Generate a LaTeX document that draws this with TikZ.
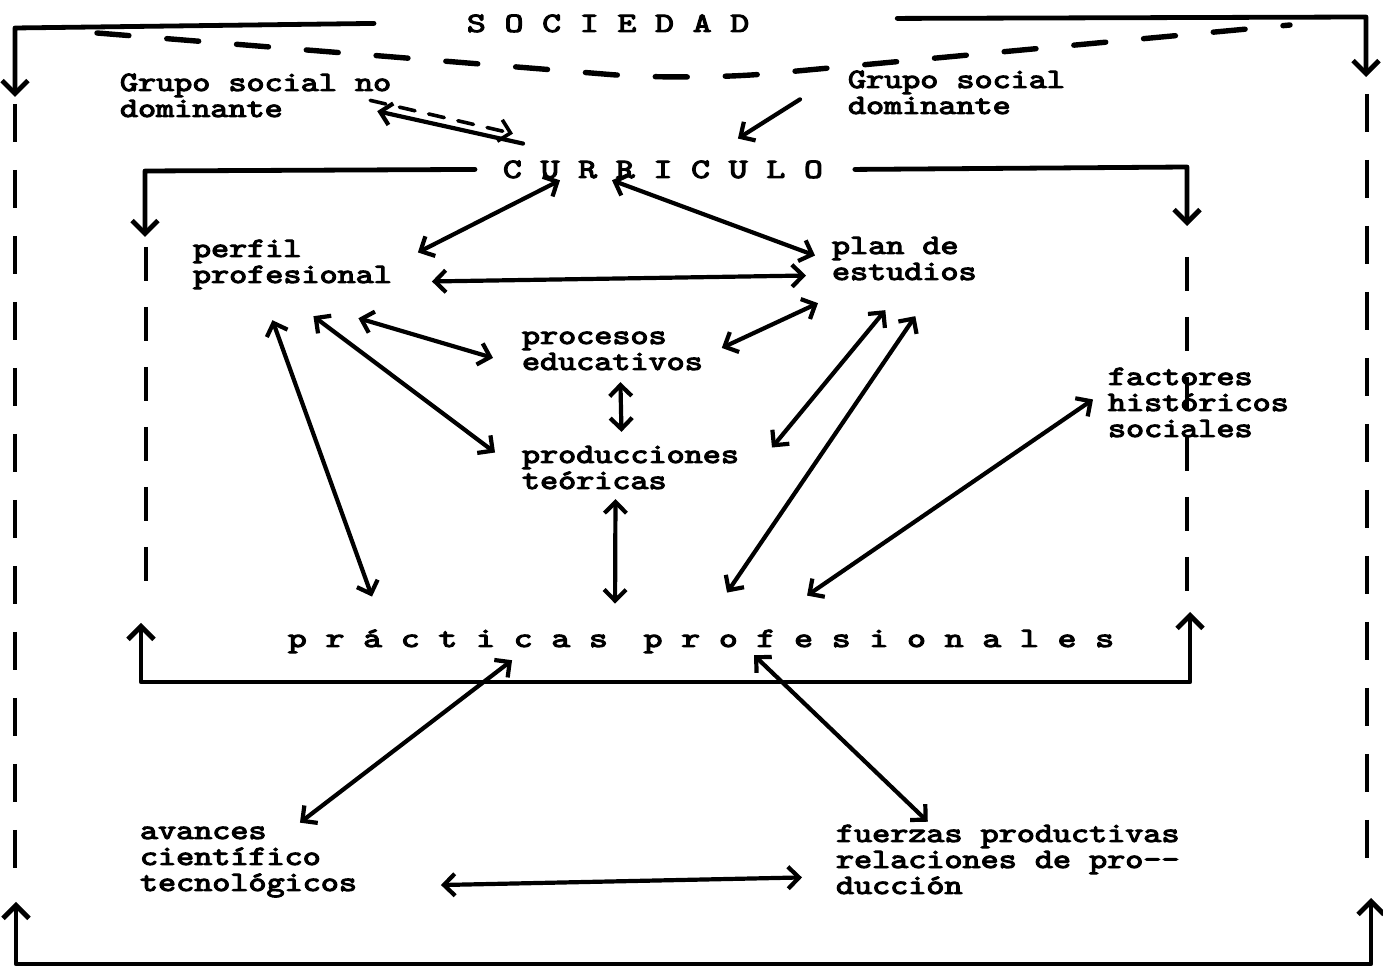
\documentclass[tikz,border=0pt]{standalone}
\usepackage{fontspec}
\usetikzlibrary{arrows.meta,calc}
\newfontfamily\twfont{lmmono10-regular.otf}[FakeBold=3.5]
\newcommand\tw{\twfont\fontsize{14}{13}\selectfont}
\tikzset{
  txt/.style={anchor=base west,inner sep=0pt,outer sep=0pt,align=left,font=\tw,xscale=1.23},
  head/.style={anchor=base west,inner sep=0pt,outer sep=0pt,font=\tw,xscale=1.28},
  link/.style={line width=2.1pt,line cap=round,line join=round},
  frame/.style={line width=2.4pt,line cap=round,line join=round,>={Straight Barb[length=6.5pt,width=13pt]}},
  gapline/.style={line width=2.4pt,dash pattern=on 19pt off 14pt},
  innergap/.style={line width=2.2pt,dash pattern=on 17pt off 13pt}
}
\begin{document}
\begin{tikzpicture}[x=0.5pt,y=-0.5pt]
\useasboundingbox (0,0) rectangle (1383,967);
\node[head] (soc) at (467,32) {S O C I E D A D};
\node[txt] (gnd) at (120,117) {Grupo social no\\dominante};
\node[txt] (gd) at (848,114) {Grupo social\\dominante};
\node[head] (curr) at (503,178) {C U R R I C U L O};
\node[txt] (perfil) at (193,283) {perfil\\profesional};
\node[txt] (plan) at (832,280) {plan de\\estudios};
\node[txt] (proc) at (522,370) {procesos\\educativos};
\node[txt] (prod) at (522,489) {producciones\\teóricas};
\node[txt] (fact) at (1108,437) {factores\\históricos\\sociales};
\node[head] (prac) at (288,647) {p r á c t i c a s\hspace{14pt}p r o f e s i o n a l e s};
\node[txt] (avan) at (140,891) {avances\\científico\\tecnológicos};
\node[txt] (fuer) at (836,894) {fuerzas productivas\\relaciones de pro-{}-\\ducción};
\coordinate (otl) at (15,28);
\coordinate (otr) at (1366,17);
\coordinate (obl) at (16,964);
\coordinate (obr) at (1371,964);
\coordinate (itl) at (145,171);
\coordinate (itr) at (1187,167);
\coordinate (ibl) at (141,682);
\coordinate (ibr) at (1190,682);
\draw[frame,->] ($(soc.west)+(-93,0)$) -- (otl) -- ++(0,69);
\draw[frame,->] ($(soc.east)+(148,-5)$) -- (otr) -- ++(0,60);
\draw[gapline] (15,104) -- (15,870);
\draw[gapline] (1367,94) -- (1367,860);
\draw[frame,<->] ($(obl)+(0,-62)$) -- (obl) -- (obr) -- ($(obr)+(0,-66)$);
\draw[line width=2.7pt,line cap=round,dash pattern=on 16pt off 19pt,rounded corners=40pt] (97,33) -- (690,81) -- (1290,25);
\draw[frame,->] ($(curr.west)+(-28,0)$) -- (itl) -- ++(0,66);
\draw[frame,->] ($(curr.east)+(32,0)$) -- (itr) -- ++(0,59);
\draw[innergap] (146,247) -- (146,598);
\draw[innergap] (1187,257) -- (1187,602);
\draw[frame,<->] ($(ibl)+(0,-59)$) -- (ibl) -- (ibr) -- ($(ibr)+(0,-70)$);
\path[link,>={Straight Barb[length=5.5pt,width=11pt]}]
($(curr.north west)+(20,-17)$) edge[->] ($(gnd.south east)+(-14,-6)$)
($(gnd.east)+(-21,5)$) edge[->,dash pattern=on 8pt off 7pt,line width=1.8pt] ($(curr.north west)+(10,-27)$)
($(gd.west)+(-48,7)$) edge[->] ($(curr.north)+(75,-22)$)
($(perfil.east)+(26,-12)$) edge[<->] ($(curr.south west)+(57,2)$)
($(curr.south west)+(109,2)$) edge[<->] ($(plan.west)+(-17,-3)$)
($(perfil.east)+(40,17)$) edge[<->] ($(plan.west)+(-26,17)$)
($(perfil.south)+(66,29)$) edge[<->] ($(proc.west)+(-29,7)$)
($(perfil.south)+(21,27)$) edge[<->] ($(prod.west)+(-27,-15)$)
($(perfil.south)+(-20,31)$) edge[<->] ($(prac.north west)+(84,-33)$)
($(proc.east)+(19,-3)$) edge[<->] ($(plan.south west)+(-14,23)$)
($(proc.south)+(8,12)$) edge[<->] ($(prod.north)+(-9,-14)$)
($(prod.south)+(-15,10)$) edge[<->] ($(prac.north)+(-86,-26)$)
($(plan.south)+(-19,30)$) edge[<->] ($(prod.east)+(33,-20)$)
($(plan.south)+(11,36)$) edge[<->] ($(prac.north)+(26,-37)$)
($(fact.west)+(-15,-3)$) edge[<->] ($(prac.north)+(106,-34)$)
($(prac.south)+(-189,7)$) edge[<->] ($(avan.north east)+(-57,-4)$)
($(prac.south)+(53,2)$) edge[<->] ($(fuer.north)+(-80,-3)$)
($(avan.east)+(84,23)$) edge[<->] ($(fuer.west)+(-34,18)$);
\end{tikzpicture}
\end{document}
